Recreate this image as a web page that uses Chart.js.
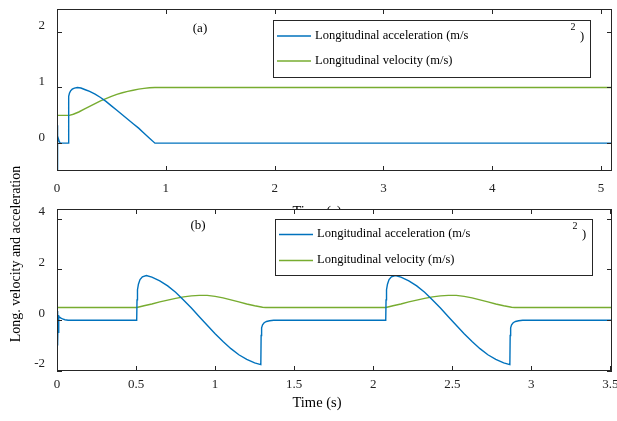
<!DOCTYPE html>
<html>
<head>
<meta charset="utf-8">
<script src="https://cdn.jsdelivr.net/npm/chart.js@4.4.1/dist/chart.umd.min.js"></script>
<style>
body { margin: 0; background: #fff; }
#wrap { position: relative; width: 617px; height: 421px; }
canvas { position: absolute; left: 0; top: 0; }
</style>
</head>
<body>
<div id="wrap">
  <canvas id="chartA" width="617" height="421"></canvas>
  <canvas id="chartB" width="617" height="421"></canvas>
</div>
<script>
// ---- panel (a) ----
var timeAccA = [0, 0.002, 0.005, 0.009, 0.014, 0.02, 0.03, 0.104, 0.105, 0.107, 0.11, 0.115, 0.125, 0.14, 0.16, 0.187,
                0.22, 0.26, 0.3, 0.35, 0.4, 0.45, 0.5, 0.55, 0.6, 0.65, 0.7, 0.75, 0.8, 0.85, 0.9, 5.1];
var accA     = [-0.8, 0.32, 0.2, 0.13, 0.07, 0.03, 0, 0, 0.4, 0.75, 0.84, 0.9, 0.94, 0.97, 0.99, 1.0,
                0.99, 0.96, 0.93, 0.88, 0.82, 0.75, 0.67, 0.59, 0.51, 0.43, 0.35, 0.27, 0.18, 0.09, 0, 0];
var timeVelA = [0, 0.113, 0.15, 0.2, 0.25, 0.3, 0.35, 0.4, 0.45, 0.5, 0.55, 0.6, 0.65, 0.7, 0.75, 0.8, 0.85, 0.9, 5.1];
var velA     = [0.5, 0.5, 0.52, 0.56, 0.61, 0.66, 0.71, 0.76, 0.8, 0.84, 0.875, 0.905, 0.93, 0.95, 0.97, 0.985, 0.995, 1.0, 1.0];
var xTicksA = [0, 1, 2, 3, 4, 5];
var yTicksA = [0, 1, 2];

// ---- panel (b) ----
var timeAccB = [0, 0.002, 0.004, 0.006, 0.008, 0.01, 0.012, 0.016, 0.025, 0.035, 0.05, 0.07,
                0.504, 0.506, 0.509, 0.515, 0.525, 0.54, 0.565, 0.6, 0.65, 0.7, 0.75, 0.8, 0.85, 0.9, 0.95,
                1.0, 1.05, 1.1, 1.15, 1.2, 1.25, 1.289, 1.291, 1.294, 1.3, 1.31, 1.325, 1.345, 1.37,
                2.079, 2.081, 2.084, 2.09, 2.1, 2.115, 2.14, 2.175, 2.225, 2.275, 2.325, 2.375, 2.425, 2.475, 2.525,
                2.575, 2.625, 2.675, 2.725, 2.775, 2.825, 2.864, 2.866, 2.869, 2.875, 2.885, 2.9, 2.92, 2.945, 3.51];
var accB     = [0, -1.0, 0.36, -0.9, 0.2, -0.5, 0.15, 0.12, 0.08, 0.05, 0.02, 0,
                0, 0.8, 1.2, 1.42, 1.6, 1.71, 1.76, 1.7, 1.55, 1.35, 1.1, 0.8, 0.48, 0.14, -0.2,
                -0.53, -0.84, -1.12, -1.36, -1.54, -1.68, -1.75, -0.6, -0.3, -0.18, -0.1, -0.05, -0.02, 0,
                0, 0.8, 1.2, 1.42, 1.6, 1.71, 1.76, 1.7, 1.55, 1.35, 1.1, 0.8, 0.48, 0.14, -0.2,
                -0.53, -0.84, -1.12, -1.36, -1.54, -1.68, -1.75, -0.6, -0.3, -0.18, -0.1, -0.05, -0.02, 0, 0];
var timeVelB = [0, 0.505, 0.55, 0.6, 0.65, 0.7, 0.75, 0.8, 0.85, 0.9, 0.95, 1.0, 1.05, 1.1, 1.15, 1.2, 1.25, 1.3, 1.32,
                2.08, 2.125, 2.175, 2.225, 2.275, 2.325, 2.375, 2.425, 2.475, 2.525, 2.575, 2.625, 2.675, 2.725, 2.775, 2.825, 2.875, 2.895, 3.51];
var velB     = [0.5, 0.5, 0.57, 0.64, 0.72, 0.79, 0.86, 0.92, 0.96, 0.98, 0.98, 0.94, 0.88, 0.8, 0.72, 0.64, 0.57, 0.51, 0.5,
                0.5, 0.57, 0.64, 0.72, 0.79, 0.86, 0.92, 0.96, 0.98, 0.98, 0.94, 0.88, 0.8, 0.72, 0.64, 0.57, 0.51, 0.5, 0.5];
var xTicksB = [0, 0.5, 1, 1.5, 2, 2.5, 3, 3.5];
var yTicksB = [-2, 0, 2, 4];

var legendLabels = ["Longitudinal acceleration (m/s", "Longitudinal velocity (m/s)"];
var xTitle = "Time (s)";
var yTitle = "Long. velocity and acceleration";

var accColor = "#0072BD";
var velColor = "#77AC30";
var axisColor = "#262626";
var serif = "'Liberation Serif', 'Times New Roman', serif";

function pairs(xs, ys) {
    return xs.map(function (x, i) { return { x: x, y: ys[i] }; });
}

var framePlugin = {
    id: 'frame',
    beforeDatasetsDraw: function (chart) {
        // white axes background (hides what lies underneath, like the upper x title)
        var a = chart.chartArea, ctx = chart.ctx;
        ctx.save();
        ctx.fillStyle = "#fff";
        ctx.fillRect(a.left, a.top, a.right - a.left, a.bottom - a.top);
        ctx.restore();
    },
    afterDatasetsDraw: function (chart, args, o) {
        var a = chart.chartArea, ctx = chart.ctx;
        var xs = chart.scales.x, ys = chart.scales.y;
        ctx.save();
        ctx.strokeStyle = axisColor;
        ctx.lineWidth = 1;
        ctx.strokeRect(a.left + 0.5, a.top + 0.5, a.right - a.left - 1, a.bottom - a.top - 1);
        ctx.beginPath();
        xs.ticks.forEach(function (t) {
            var px = Math.round(xs.getPixelForValue(t.value)) + 0.5;
            ctx.moveTo(px, a.bottom); ctx.lineTo(px, a.bottom - 5);
            ctx.moveTo(px, a.top); ctx.lineTo(px, a.top + 5);
        });
        ys.ticks.forEach(function (t) {
            var py = Math.round(ys.getPixelForValue(t.value)) + 0.5;
            ctx.moveTo(a.left, py); ctx.lineTo(a.left + 5, py);
            ctx.moveTo(a.right, py); ctx.lineTo(a.right - 5, py);
        });
        ctx.stroke();

        // legend
        var L = o.legend;
        ctx.fillStyle = "#fff";
        ctx.fillRect(L.left, L.top, L.right - L.left, L.bottom - L.top);
        ctx.strokeRect(L.left + 0.5, L.top + 0.5, L.right - L.left, L.bottom - L.top);
        ctx.font = "12.5px " + serif;
        ctx.textBaseline = "middle";
        ctx.textAlign = "left";
        chart.data.datasets.forEach(function (ds, i) {
            var ry = L.rows[i];
            ctx.strokeStyle = ds.borderColor;
            ctx.lineWidth = 1.3;
            ctx.beginPath();
            ctx.moveTo(L.left + 4, ry + 0.5);
            ctx.lineTo(L.left + 38, ry + 0.5);
            ctx.stroke();
            ctx.fillStyle = "#000";
            ctx.fillText(ds.label, L.left + 42, ry);
        });
        ctx.font = "10px " + serif;
        ctx.textAlign = "center";
        ctx.fillText("2", L.right - 17, L.rows[0] - 8);
        ctx.font = "12.5px " + serif;
        ctx.fillText(")", L.right - 8, L.rows[0] + 1);

        // panel letter
        ctx.font = "13px " + serif;
        ctx.fillText(o.letter.text, o.letter.x, o.letter.y);

        // axis titles
        ctx.font = "14.5px " + serif;
        ctx.fillText(xTitle, 317, o.xTitleY);
        if (o.showYTitle) {
            ctx.font = "14px " + serif;
            ctx.translate(16, 254);
            ctx.rotate(-Math.PI / 2);
            ctx.fillText(yTitle, 0, 0);
        }
        ctx.restore();
    }
};

function makePanel(id, timeAcc, acc, timeVel, vel, xMax, yMin, yMax, xTicks, yTicks, box) {
    return new Chart(document.getElementById(id), {
        type: 'line',
        data: {
            datasets: [{
                label: legendLabels[0],
                data: pairs(timeAcc, acc),
                borderColor: accColor,
                borderWidth: 1.4,
                pointRadius: 0,
                tension: 0
            }, {
                label: legendLabels[1],
                data: pairs(timeVel, vel),
                borderColor: velColor,
                borderWidth: 1.4,
                pointRadius: 0,
                tension: 0
            }]
        },
        options: {
            responsive: false,
            animation: false,
            events: [],
            layout: { padding: { left: 0, right: 617 - box.right, top: box.top, bottom: 421 - box.bottom - 30 } },
            plugins: {
                legend: { display: false },
                tooltip: { enabled: false },
                frame: box.frame
            },
            scales: {
                x: {
                    type: 'linear', min: 0, max: xMax,
                    grid: { display: false, drawTicks: false }, border: { display: false },
                    afterBuildTicks: function (s) { s.ticks = xTicks.map(function (v) { return { value: v }; }); },
                    afterFit: function (s) { s.height = 30; s.paddingLeft = 0; s.paddingRight = 0; },
                    ticks: {
                        font: { family: serif, size: 13 }, color: "#222", padding: box.xPad,
                        maxRotation: 0, autoSkip: false,
                        callback: function (v) { return String(v); }
                    }
                },
                y: {
                    type: 'linear', min: yMin, max: yMax,
                    grid: { display: false, drawTicks: false }, border: { display: false },
                    afterBuildTicks: function (s) { s.ticks = yTicks.map(function (v) { return { value: v }; }); },
                    afterFit: function (s) { s.width = box.left; s.paddingTop = 0; s.paddingBottom = 0; },
                    ticks: {
                        font: { family: serif, size: 13 }, color: "#222", padding: 12,
                        labelOffset: box.yShift,
                        callback: function (v) { return String(v); }
                    }
                }
            }
        },
        plugins: [framePlugin]
    });
}

makePanel('chartA', timeAccA, accA, timeVelA, velA, 5.1, -0.5, 2.41, xTicksA, yTicksA, {
    left: 57, right: 612, top: 9, bottom: 171, xPad: 10, yShift: -6,
    frame: {
        legend: { left: 273, right: 590, top: 20, bottom: 77, rows: [35.5, 60.5] },
        letter: { text: "(a)", x: 200, y: 29 },
        xTitleY: 212, showYTitle: false
    }
});

makePanel('chartB', timeAccB, accB, timeVelB, velB, 3.51, -2, 4.38, xTicksB, yTicksB, {
    left: 57, right: 612, top: 209, bottom: 371, xPad: 6, yShift: -7,
    frame: {
        legend: { left: 275, right: 592, top: 219, bottom: 275, rows: [234, 260] },
        letter: { text: "(b)", x: 198, y: 226 },
        xTitleY: 403, showYTitle: true
    }
});
</script>
</body>
</html>
